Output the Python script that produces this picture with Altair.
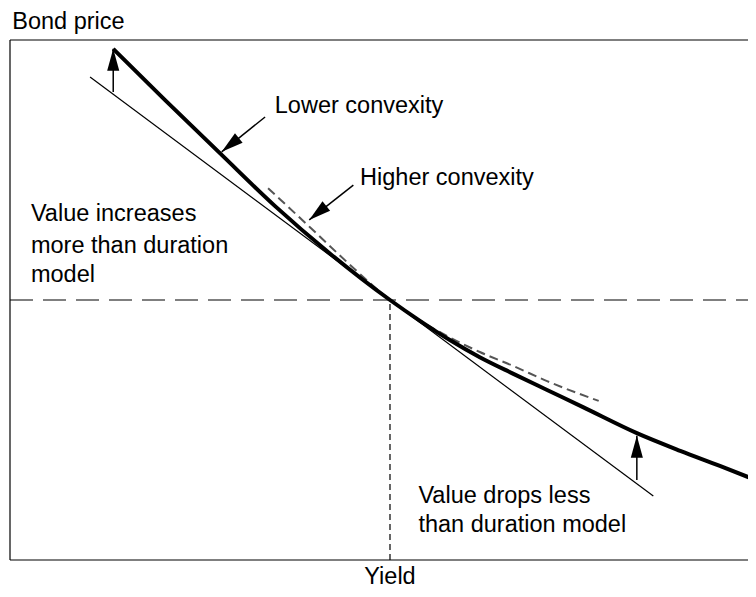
import altair as alt
import pandas as pd

# Arbitrary 0-10 units: x = yield, y = bond price
curve_yield = [1.38, 2.07, 2.83, 3.54, 4.28, 5.08, 5.48, 5.88, 6.28, 6.73, 7.18, 7.66, 8.38, 8.96, 9.49, 10.0]
curve_price = [9.83, 8.85, 7.79, 6.81, 5.89, 5.00, 4.60, 4.23, 3.90, 3.58, 3.27, 2.94, 2.44, 2.10, 1.81, 1.52]

high_yield = [3.45, 4.01, 4.55, 5.08, 5.39, 5.84, 6.28, 6.73, 7.18, 7.87]
high_price = [7.15, 6.40, 5.67, 5.00, 4.69, 4.31, 4.00, 3.73, 3.44, 3.06]

tangent_yield = [1.07, 8.60]
tangent_price = [9.29, 1.23]

current_yield = 5.08
current_price = 5.0

arrow_x0 = [1.38, 3.41, 4.59, 8.38]
arrow_y0 = [9.00, 8.52, 7.21, 1.54]
arrow_x1 = [1.38, 2.83, 4.00, 8.38]
arrow_y1 = [9.83, 7.85, 6.54, 2.39]
arrow_angle = [0, 231, 231, 0]

label_text = ["Bond price", "Lower convexity", "Higher convexity", "Value increases",
              "more than duration", "model", "Value drops less", "than duration model"]
label_x = [0.03, 3.54, 4.68, 0.28, 0.28, 0.28, 5.46, 5.46]
label_y = [10.21, 8.60, 7.21, 6.52, 5.90, 5.35, 1.10, 0.54]

axis_title = "Yield"
axis_title_x = 5.08
axis_title_y = -0.47

x_max = 9.866  # visible right edge (frame runs off the picture)

FONT = "Liberation Sans"
FS = 23.5

xs = alt.Scale(domain=[0, x_max], nice=False, zero=False)
ys = alt.Scale(domain=[0, 10], nice=False, zero=False)


def X(f):
    return alt.X(f, type="quantitative", scale=xs, axis=None)


def Y(f):
    return alt.Y(f, type="quantitative", scale=ys, axis=None)


curve_df = pd.DataFrame({"x": curve_yield, "y": curve_price})
high_df = pd.DataFrame({"x": high_yield, "y": high_price})
tan_df = pd.DataFrame({"x": tangent_yield, "y": tangent_price})
arrow_df = pd.DataFrame({"x0": arrow_x0, "y0": arrow_y0, "x1": arrow_x1, "y1": arrow_y1, "a": arrow_angle})
label_df = pd.DataFrame({"t": label_text, "x": label_x, "y": label_y})
title_df = pd.DataFrame({"t": [axis_title], "x": [axis_title_x], "y": [axis_title_y]})

frame_df = pd.DataFrame({
    "x0": [0, 0, 0], "y0": [0, 10, 0],
    "x1": [0, x_max, x_max], "y1": [10, 10, 0],
})
hline_df = pd.DataFrame({"x0": [0], "x1": [x_max], "y0": [current_price], "y1": [current_price]})
vline_df = pd.DataFrame({"x0": [current_yield], "x1": [current_yield], "y0": [0], "y1": [current_price]})

frame = alt.Chart(frame_df).mark_rule(color="black", strokeWidth=1.2).encode(
    x=X("x0"), y=Y("y0"), x2="x1", y2="y1")
hline = alt.Chart(hline_df).mark_rule(color="black", strokeWidth=1.2, strokeDash=[23, 10]).encode(
    x=X("x0"), y=Y("y0"), x2="x1", y2="y1")
vline = alt.Chart(vline_df).mark_rule(color="black", strokeWidth=1.2, strokeDash=[6, 4]).encode(
    x=X("x0"), y=Y("y0"), x2="x1", y2="y1")

tangent = alt.Chart(tan_df).mark_line(color="black", strokeWidth=1.2).encode(x=X("x"), y=Y("y"))
high = alt.Chart(high_df).mark_line(color="#555555", strokeWidth=2, strokeDash=[9, 5],
                                    interpolate="monotone").encode(x=X("x"), y=Y("y"))
curve = alt.Chart(curve_df).mark_line(color="black", strokeWidth=4, clip=True,
                                      interpolate="monotone").encode(x=X("x"), y=Y("y"))

shafts = alt.Chart(arrow_df).mark_rule(color="black", strokeWidth=1.5).encode(
    x=X("x0"), y=Y("y0"), x2="x1", y2="y1")
heads = alt.Chart(arrow_df).mark_point(
    shape="M0,0L0.55,2L-0.55,2Z", size=484, filled=True, color="black", opacity=1, strokeWidth=0
).encode(x=X("x1"), y=Y("y1"), angle=alt.Angle("a:Q", scale=None))

labels = alt.Chart(label_df).mark_text(
    align="left", baseline="alphabetic", font=FONT, fontSize=FS, color="black"
).encode(x=X("x"), y=Y("y"), text="t:N")
title = alt.Chart(title_df).mark_text(
    align="center", baseline="alphabetic", font=FONT, fontSize=FS, color="black"
).encode(x=X("x"), y=Y("y"), text="t:N")

chart = alt.layer(frame, hline, vline, tangent, high, curve, shafts, heads, labels, title).properties(
    width=738, height=520,
    padding={"left": 2, "top": 32, "right": 0, "bottom": 29},
    autosize=alt.AutoSizeParams(type="none"),
).configure_view(stroke=None)

chart.save("out.html", embed_options={"renderer": "svg", "actions": False})
